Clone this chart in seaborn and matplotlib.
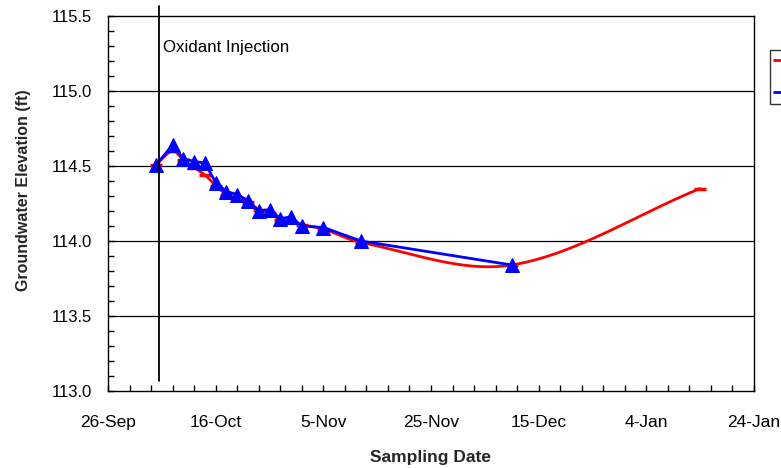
import numpy as np
import pandas as pd
import matplotlib
matplotlib.use("Agg")
import matplotlib.pyplot as plt
import matplotlib.dates as mdates
import seaborn as sns
from matplotlib.lines import Line2D

# ---------------- data ----------------
sample_dates = ["2004-10-05", "2004-10-08", "2004-10-10", "2004-10-12", "2004-10-14",
                "2004-10-16", "2004-10-18", "2004-10-20", "2004-10-22", "2004-10-24",
                "2004-10-26", "2004-10-28", "2004-10-30", "2004-11-01", "2004-11-05",
                "2004-11-12", "2004-12-10"]
measured_elev = [114.51, 114.64, 114.55, 114.53, 114.52, 114.39, 114.33, 114.31, 114.27,
                 114.20, 114.21, 114.15, 114.16, 114.10, 114.09, 114.00, 113.84]

trend_dates = sample_dates + ["2005-01-14"]
trend_elev = [114.51, 114.60, 114.54, 114.49, 114.44, 114.37, 114.31, 114.29, 114.26,
              114.21, 114.19, 114.14, 114.13, 114.11, 114.08, 113.99, 113.84, 114.35]

injection_date = "2004-10-05 12:00"
injection_label = "Oxidant Injection"

x_tick_dates = ["2004-09-26", "2004-10-16", "2004-11-05", "2004-11-25",
                "2004-12-15", "2005-01-04", "2005-01-24"]
x_tick_labels = ["26-Sep", "16-Oct", "5-Nov", "25-Nov", "15-Dec", "4-Jan", "24-Jan"]
y_ticks = [113.0, 113.5, 114.0, 114.5, 115.0, 115.5]
y_tick_labels = ["113.0", "113.5", "114.0", "114.5", "115.0", "115.5"]
legend_labels = ["Trend", "Measured"]

# ---------------- figure ----------------
sns.set_theme(style="white")
plt.rcParams["font.family"] = ["Liberation Sans", "DejaVu Sans"]

fig = plt.figure(figsize=(7.81, 4.68), dpi=100)
ax = fig.add_axes([108 / 781, 1 - 391 / 468, (754 - 108) / 781, (391 - 16) / 468])

meas = pd.DataFrame({"date": pd.to_datetime(sample_dates), "elev": measured_elev})
trend = pd.DataFrame({"date": pd.to_datetime(trend_dates), "elev": trend_elev})

# smoothed rendering of trend line (cubic Hermite with finite-difference tangents)
tx = mdates.date2num(trend["date"])
ty = np.asarray(trend["elev"], dtype=float)
n = len(tx)
m = np.zeros(n)
for i in range(n):
    if i == 0:
        m[i] = (ty[1] - ty[0]) / (tx[1] - tx[0])
    elif i == n - 1:
        m[i] = (ty[-1] - ty[-2]) / (tx[-1] - tx[-2])
    else:
        m[i] = (ty[i + 1] - ty[i - 1]) / (tx[i + 1] - tx[i - 1])
sx, sy = [], []
for i in range(n - 1):
    h = tx[i + 1] - tx[i]
    t = np.linspace(0, 1, 40)
    h00 = 2 * t**3 - 3 * t**2 + 1
    h10 = t**3 - 2 * t**2 + t
    h01 = -2 * t**3 + 3 * t**2
    h11 = t**3 - t**2
    sx.extend(tx[i] + t * h)
    sy.extend(h00 * ty[i] + h10 * h * m[i] + h01 * ty[i + 1] + h11 * h * m[i + 1])
smooth = pd.DataFrame({"date": mdates.num2date(sx), "elev": sy})

# horizontal gridlines
for yv in y_ticks[1:-1]:
    ax.axhline(yv, color="black", lw=0.9, zorder=1)

sns.lineplot(data=smooth, x="date", y="elev", ax=ax, color="#FF0000", lw=2.0,
             sort=False, estimator=None, zorder=3)
ax.plot(trend["date"], trend["elev"], ls="none", marker="_", ms=9, mew=2.5,
        color="#FF0000", zorder=3)
sns.lineplot(data=meas, x="date", y="elev", ax=ax, color="#0000FF", lw=2.0,
             marker="^", markersize=10, markeredgecolor="#0000FF",
             estimator=None, zorder=4)

# injection line
inj = pd.to_datetime(injection_date)
ax.plot([inj, inj], [113.067, 115.567], color="black", lw=1.3, clip_on=False, zorder=5)
ax.text(pd.to_datetime("2004-10-06 06:00"), 115.29, injection_label, fontsize=12.2,
        va="center", ha="left", color="black")

# axes styling
start = pd.to_datetime(x_tick_dates[0])
end = pd.to_datetime(x_tick_dates[-1])
ax.set_xlim(start, end)
ax.set_ylim(113.0, 115.5)
ax.set_xticks(pd.to_datetime(x_tick_dates))
ax.set_xticklabels(x_tick_labels)
minor_x = pd.date_range(start, end, freq="4D")
ax.set_xticks(minor_x, minor=True)
ax.set_yticks(y_ticks)
ax.set_yticklabels(y_tick_labels)
ax.set_yticks(np.arange(113.0, 115.51, 0.1), minor=True)

ax.tick_params(axis="both", which="both", direction="in", length=4, width=1,
               color="black", labelcolor="black")
ax.tick_params(axis="both", which="both", bottom=True, left=True, top=False, right=False)
ax.tick_params(axis="x", which="major", pad=17, labelsize=12.5)
ax.tick_params(axis="y", which="major", pad=11.5, labelsize=12)

for sp in ax.spines.values():
    sp.set_color("black")
    sp.set_linewidth(1.0)
    sp.set_visible(True)

ax.set_xlabel("Sampling Date", fontsize=12.5, fontweight="bold", labelpad=15)
ax.set_ylabel("Groundwater Elevation (ft)", fontsize=11.5, fontweight="bold")
ax.yaxis.set_label_coords(-0.119, 0.535)
ax.grid(False)

# legend (mostly outside the canvas, as in reference)
handles = [Line2D([0], [0], color="#FF0000", lw=2, marker="_", ms=9, mew=2.5),
           Line2D([0], [0], color="#0000FF", lw=2, marker="^", ms=8)]
leg = fig.legend(handles, legend_labels, loc="upper left",
                 bbox_to_anchor=(770 / 781, 1 - 50 / 468), frameon=True,
                 fancybox=False, edgecolor="black", fontsize=10, borderpad=0.3,
                 borderaxespad=0, handlelength=2.5, labelspacing=1.3)
leg.get_frame().set_linewidth(1.0)

fig.savefig("out.png", dpi=100)
